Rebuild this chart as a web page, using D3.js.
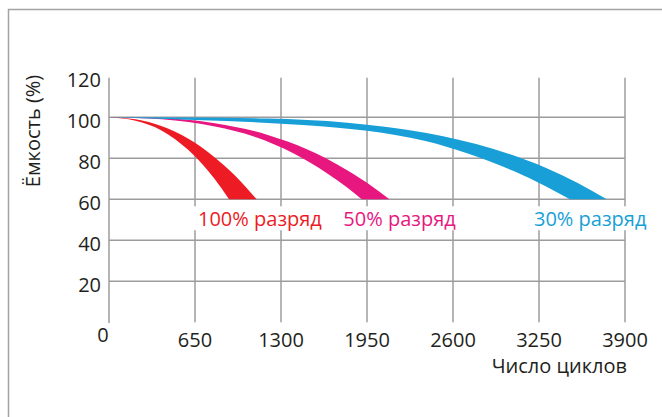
<!DOCTYPE html>
<html><head><meta charset="utf-8">
<script src="https://cdn.jsdelivr.net/npm/d3@7"></script>
<style>
html,body{margin:0;padding:0;background:#fff;}
svg{display:block;}
text{font-family:"Open Sans",sans-serif;}
</style></head>
<body>
<svg id="chart" width="662" height="417"></svg>
<script>
// ---- data ----
const xTicks = [0, 650, 1300, 1950, 2600, 3250, 3900];
const yTicks = [20, 40, 60, 80, 100, 120];
const seriesNames = ["100% разряд", "50% разряд", "30% разряд"];
const seriesColors = ["#ED1C24", "#E8177F", "#189FD8"];
// outer (right/upper) and inner (left/lower) edge of each band: [cycles, capacity %]
const redOuter  = [[0,100],[200,99.0],[400,95.6],[600,89.5],[800,80.4],[950,71.7],[1116,60]];
const redInner  = [[0,100],[200,98.3],[400,93.5],[600,84.0],[750,73.8],[850,65.4],[907,60]];
const pinkOuter = [[0,100],[400,99.6],[800,97.1],[1200,91.4],[1500,84.3],[1800,74.2],[2000,65.8],[2119,60]];
const pinkInner = [[0,100],[400,99.0],[800,95.5],[1100,90.5],[1400,82.2],[1650,72.6],[1800,65.7],[1910,60]];
const blueOuter = [[0,100],[600,99.95],[1200,99.4],[1800,97.4],[2400,92.4],[2900,84.7],[3300,75.4],[3550,67.7],[3762,60]];
const blueInner = [[0,100],[650,98.7],[1300,96.9],[1950,93.4],[2400,88.3],[2700,82.6],[3050,74],[3300,66.4],[3484,60]];
const bands = [[redOuter, redInner], [pinkOuter, pinkInner], [blueOuter, blueInner]];

// ---- layout ----
const svg = d3.select("#chart");
const x = d3.scaleLinear().domain([0, 3900]).range([109, 625]);
const y = d3.scaleLinear().domain([0, 120]).range([322.3, 76.3]);
const gridColor = "#9c9c9e";
const textColor = "#231f20";

// frame
svg.append("path").attr("d", "M8.5,417 V9.5 H662")
  .attr("fill", "none").attr("stroke", "#a3a3a3").attr("stroke-width", 1.5);

// horizontal gridlines
svg.append("g").selectAll("line").data(yTicks.filter(d => d < 120)).join("line")
  .attr("x1", x(0)).attr("x2", x(3900))
  .attr("y1", d => y(d)).attr("y2", d => y(d))
  .attr("stroke", gridColor).attr("stroke-width", 1.5);

// vertical gridlines with gap at the label row
const gapTop = y(60) + 7, gapBot = y(40) - 10;
const vg = svg.append("g");
xTicks.filter(d => d > 0).forEach(d => {
  vg.append("line").attr("x1", x(d)).attr("x2", x(d)).attr("y1", y(120) + 1.5).attr("y2", gapTop)
    .attr("stroke", gridColor).attr("stroke-width", 1.5);
  vg.append("line").attr("x1", x(d)).attr("x2", x(d)).attr("y1", gapBot).attr("y2", y(0))
    .attr("stroke", gridColor).attr("stroke-width", 1.5);
});
// left axis
svg.append("line").attr("x1", x(0)).attr("x2", x(0)).attr("y1", y(120) + 1.5).attr("y2", y(0) + 0.75)
  .attr("stroke", gridColor).attr("stroke-width", 1.5);

// bands
const line = d3.line().x(d => x(d[0])).y(d => y(d[1])).curve(d3.curveMonotoneX);
bands.forEach((b, i) => {
  const p = line(b[0]) + line(b[1].slice().reverse()).replace(/^M/, "L") + "Z";
  svg.append("path").attr("d", p).attr("fill", seriesColors[i]);
});

// y tick labels
svg.append("g").selectAll("text").data(yTicks).join("text")
  .attr("x", 101).attr("y", d => y(d) + 11)
  .attr("text-anchor", "end").attr("font-size", 20).attr("fill", textColor)
  .text(d => d);
// x tick labels
svg.append("g").selectAll("text").data(xTicks).join("text")
  .attr("x", d => d === 0 ? x(d) - 6 : x(d))
  .attr("y", d => d === 0 ? y(0) + 19.5 : y(0) + 25)
  .attr("text-anchor", "middle").attr("font-size", 20).attr("fill", textColor)
  .text(d => d);

// series labels
const labelX = [198, 343.3, 534];
seriesNames.forEach((n, i) => {
  svg.append("text").attr("x", labelX[i]).attr("y", 225.5)
    .attr("font-size", 20).attr("fill", seriesColors[i]).text(n);
});

// axis titles
svg.append("text").attr("x", 627).attr("y", 373).attr("text-anchor", "end")
  .attr("font-size", 20).attr("fill", textColor).text("Число циклов");
svg.append("text").attr("transform", "translate(40,131) rotate(-90)")
  .attr("text-anchor", "middle").attr("font-size", 20).attr("fill", textColor).text("Ёмкость (%)");
</script>
</body></html>
